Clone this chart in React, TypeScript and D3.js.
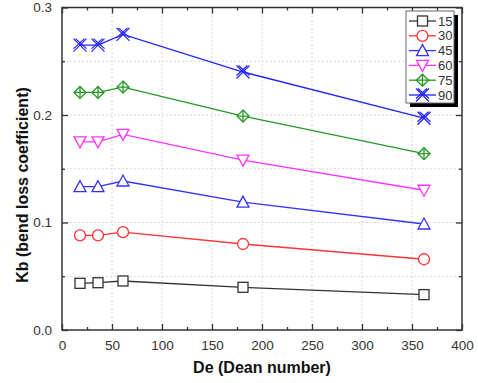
import React, { useRef, useEffect } from "react";
import * as d3 from "d3";

const deValues = [18, 36, 61, 181, 362];
const angles = ["15", "30", "45", "60", "75", "90"];
const kb15 = [0.0434, 0.044, 0.0456, 0.0397, 0.0329];
const kb30 = [0.088, 0.088, 0.091, 0.080, 0.0658];
const kb45 = [0.1333, 0.1333, 0.1386, 0.119, 0.0986];
const kb60 = [0.175, 0.175, 0.182, 0.158, 0.130];
const kb75 = [0.221, 0.221, 0.226, 0.199, 0.164];
const kb90 = [0.265, 0.265, 0.275, 0.240, 0.197];
const xTicks = [0, 50, 100, 150, 200, 250, 300, 350, 400];
const yTicks = [0.0, 0.1, 0.2, 0.3];

const seriesValues = [kb15, kb30, kb45, kb60, kb75, kb90];
const colors = ["#333333", "#ff3333", "#3333ff", "#ff33ff", "#229922", "#2222ff"];
const shapes = ["square", "circle", "triangle", "down", "diamond", "star"];

function drawMarker(g: any, shape: string, cx: number, cy: number, color: string) {
  const s = 5;
  const m = g.append("g").attr("transform", `translate(${cx},${cy})`)
    .attr("fill", "white").attr("stroke", color).attr("stroke-width", 1.3);
  if (shape === "square") {
    m.append("rect").attr("x", -s).attr("y", -s).attr("width", 2 * s).attr("height", 2 * s);
  } else if (shape === "circle") {
    m.append("circle").attr("r", s + 0.5);
  } else if (shape === "triangle") {
    m.append("path").attr("d", `M0,${-s - 1}L${s + 1},${s}L${-s - 1},${s}Z`);
  } else if (shape === "down") {
    m.append("path").attr("d", `M0,${s + 1}L${s + 1},${-s}L${-s - 1},${-s}Z`);
  } else if (shape === "diamond") {
    m.append("path").attr("d", `M0,${-s - 1}L${s + 1},0L0,${s + 1}L${-s - 1},0Z`);
    m.append("path").attr("d", `M0,${-s - 1}V${s + 1}M${-s - 1},0H${s + 1}`);
  } else {
    const t = 6.5;
    m.attr("fill", "none").attr("stroke-width", 1.2);
    m.append("path").attr("d", `M${-t},${-t}L${t},${t}M${-t},${t}L${t},${-t}`);
    m.append("path").attr("d", `M${-t + 2},${-t}L${t},${t - 3}M${-t},${t - 3}L${t - 2},${-t}`);
  }
}

const App: React.FC = () => {
  const svgRef = useRef<SVGSVGElement | null>(null);

  useEffect(() => {
    const svg = d3.select(svgRef.current);
    svg.selectAll("*").remove();

    const width = 478;
    const height = 383;
    const margin = { top: 7.5, right: 16, bottom: 53, left: 62 };

    const x = d3.scaleLinear().domain([0, 400]).range([margin.left, width - margin.right]);
    const y = d3.scaleLinear().domain([0, 0.3]).range([height - margin.bottom, margin.top]);

    svg.attr("width", width).attr("height", height)
      .style("font-family", "Liberation Sans, Arial, sans-serif");

    // grid
    const grid = svg.append("g").attr("stroke", "#d8d8d8").attr("stroke-dasharray", "2,2").attr("stroke-width", 1);
    d3.range(50, 400, 50).forEach(v => {
      grid.append("line").attr("x1", x(v)).attr("x2", x(v)).attr("y1", y(0)).attr("y2", y(0.3));
    });
    d3.range(1, 6).map(i => i * 0.05).forEach(v => {
      grid.append("line").attr("x1", x(0)).attr("x2", x(400)).attr("y1", y(v)).attr("y2", y(v));
    });

    // axes
    const axisColor = "#333";
    svg.append("rect").attr("x", x(0)).attr("y", y(0.3)).attr("width", x(400) - x(0)).attr("height", y(0) - y(0.3))
      .attr("fill", "none").attr("stroke", axisColor).attr("stroke-width", 1.5);

    const bottom = svg.append("g").attr("transform", `translate(0,${y(0)})`)
      .call(d3.axisBottom(x).tickValues(xTicks).tickSize(-6).tickPadding(10).tickFormat(d3.format("d")));
    const top = svg.append("g").attr("transform", `translate(0,${y(0.3)})`)
      .call(d3.axisTop(x).tickValues(xTicks).tickSize(-6).tickFormat(() => ""));
    const left = svg.append("g").attr("transform", `translate(${x(0)},0)`)
      .call(d3.axisLeft(y).tickValues(yTicks).tickSize(-6).tickPadding(10).tickFormat(d3.format(".1f")));
    const right = svg.append("g").attr("transform", `translate(${x(400)},0)`)
      .call(d3.axisRight(y).tickValues(yTicks).tickSize(-6).tickFormat(() => ""));
    const minorX = d3.range(25, 400, 50);
    const minorY = [0.05, 0.15, 0.25];
    svg.append("g").attr("transform", `translate(0,${y(0)})`)
      .call(d3.axisBottom(x).tickValues(minorX).tickSize(-3).tickFormat(() => ""));
    svg.append("g").attr("transform", `translate(0,${y(0.3)})`)
      .call(d3.axisTop(x).tickValues(minorX).tickSize(-3).tickFormat(() => ""));
    svg.append("g").attr("transform", `translate(${x(0)},0)`)
      .call(d3.axisLeft(y).tickValues(minorY).tickSize(-3).tickFormat(() => ""));
    svg.append("g").attr("transform", `translate(${x(400)},0)`)
      .call(d3.axisRight(y).tickValues(minorY).tickSize(-3).tickFormat(() => ""));

    svg.selectAll(".domain").remove();
    svg.selectAll(".tick line").attr("stroke", axisColor).attr("stroke-width", 1.3);
    [bottom, left].forEach(a => a.selectAll("text").attr("fill", "#333").style("font-size", "13.5px").style("font-family", "Liberation Sans, Arial, sans-serif"));
    top.selectAll("text").remove();
    right.selectAll("text").remove();

    // series
    const line = d3.line<number>().x((_, i) => x(deValues[i])).y(d => y(d));
    seriesValues.forEach((vals, k) => {
      svg.append("path").datum(vals).attr("fill", "none").attr("stroke", colors[k]).attr("stroke-width", 1.3).attr("d", line);
      vals.forEach((v, i) => drawMarker(svg, shapes[k], x(deValues[i]), y(v), colors[k]));
    });

    // legend
    const lx = 406, ly = 11, lw = 48, lh = 92;
    svg.append("rect").attr("x", lx + 4).attr("y", ly + 4).attr("width", lw).attr("height", lh).attr("fill", "#000");
    svg.append("rect").attr("x", lx).attr("y", ly).attr("width", lw).attr("height", lh).attr("fill", "white").attr("stroke", "#666").attr("stroke-width", 1);
    angles.forEach((a, k) => {
      const ry = ly + 10 + k * 14.8;
      svg.append("line").attr("x1", lx + 3).attr("x2", lx + 30).attr("y1", ry).attr("y2", ry).attr("stroke", colors[k]).attr("stroke-width", 1.3);
      drawMarker(svg, shapes[k], lx + 16.5, ry, colors[k]);
      svg.append("text").attr("x", lx + 32).attr("y", ry + 4.5).attr("fill", "#333").style("font-size", "13px").text(a);
    });

    // titles
    svg.append("text").attr("x", x(200)).attr("y", 373).attr("text-anchor", "middle")
      .style("font-size", "16px").style("font-weight", "bold").attr("fill", "#111").text("De (Dean number)");
    svg.append("text").attr("transform", `translate(28,${185}) rotate(-90)`).attr("text-anchor", "middle")
      .style("font-size", "16px").style("font-weight", "bold").attr("fill", "#111").text("Kb (bend loss coefficient)");
  }, []);

  return <svg ref={svgRef} style={{ position: "absolute", left: 0, top: 0 }} />;
};

export default App;
